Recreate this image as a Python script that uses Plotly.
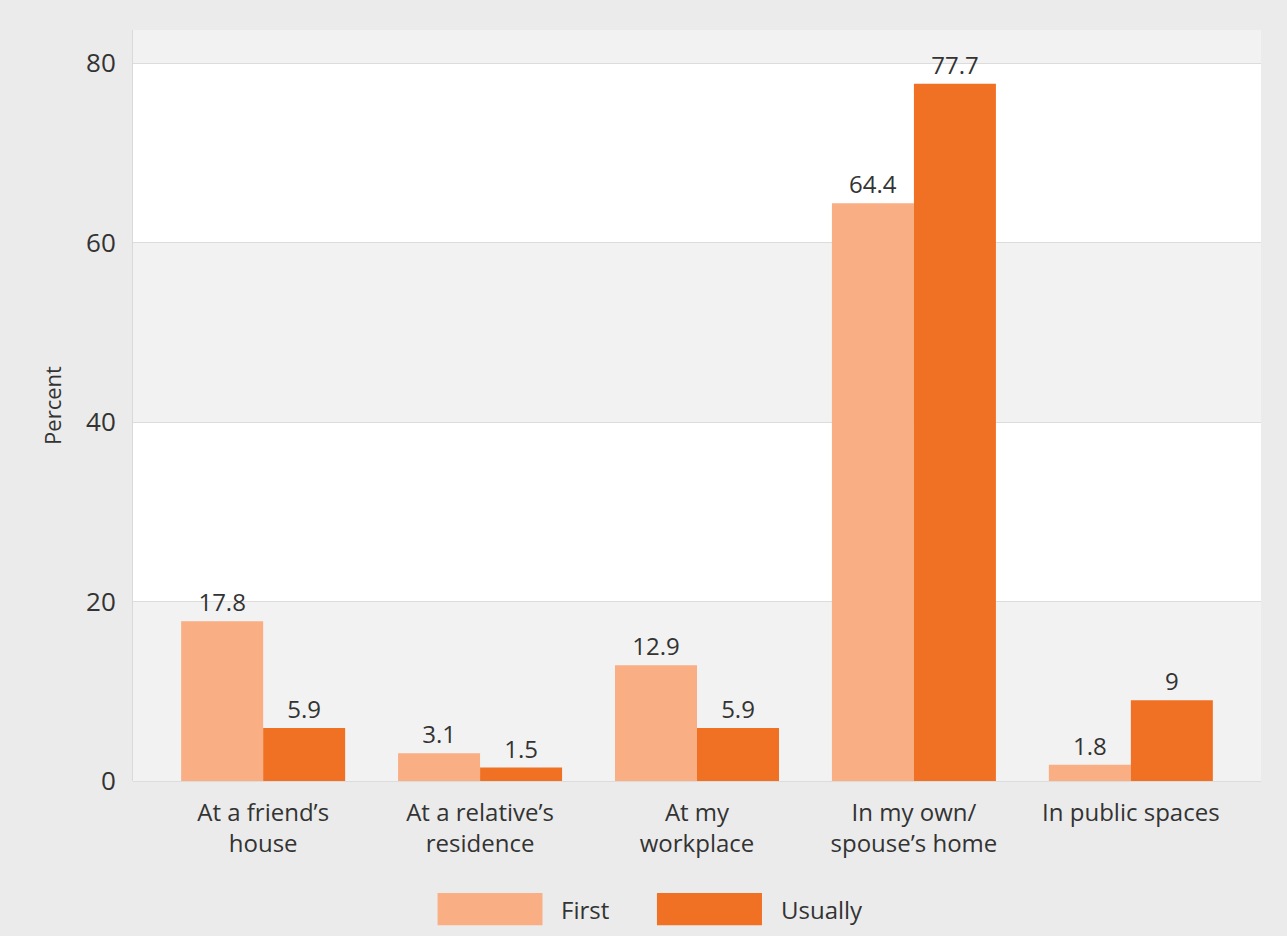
import plotly.graph_objects as go

categories = ["At a friend’s<br>house", "At a relative’s<br>residence", "At my<br>workplace",
              "In my own/<br>spouse’s home", "In public spaces"]
series_names = ["First", "Usually"]
first_values = [17.8, 3.1, 12.9, 64.4, 1.8]
usually_values = [5.9, 1.5, 5.9, 77.7, 9]
y_ticks = [0, 20, 40, 60, 80]

colors = ["#f9ae83", "#f07123"]
FONT = "Open Sans"
TXT = "#333333"
FS = 24

fig = go.Figure()
for name, vals, col in zip(series_names, [first_values, usually_values], colors):
    fig.add_trace(go.Bar(
        x=categories, y=vals, name=name, marker=dict(color=col, line=dict(width=0)),
        text=[f"{v:g}" for v in vals], textposition="outside", cliponaxis=False,
        textfont=dict(family=FONT, size=FS, color=TXT), showlegend=False,
    ))

# alternating white bands
shapes = []
for lo, hi in [(20, 40), (60, 80)]:
    shapes.append(dict(type="rect", xref="paper", yref="y", x0=0, x1=1, y0=lo, y1=hi,
                       fillcolor="white", line=dict(width=0), layer="below"))

# custom legend swatches
legend_pos = [(0.270, 0.363), (0.4645, 0.5576)]
annotations = []
for (x0, x1), col, name in zip(legend_pos, colors, series_names):
    shapes.append(dict(type="rect", xref="paper", yref="paper", x0=x0, x1=x1, y0=-0.192, y1=-0.149,
                       fillcolor=col, line=dict(width=0)))
    annotations.append(dict(xref="paper", yref="paper", x=x1 + 0.015, y=-0.1705, text=name,
                            showarrow=False, xanchor="left", yanchor="middle",
                            font=dict(family=FONT, size=FS, color=TXT)))

fig.update_layout(
    width=1287, height=936,
    margin=dict(l=133, r=26, t=30, b=155),
    paper_bgcolor="#ebebeb", plot_bgcolor="#f2f2f2",
    barmode="group", bargap=0.244, bargroupgap=0,
    shapes=shapes, annotations=annotations,
    font=dict(family=FONT, size=FS, color=TXT),
    xaxis=dict(range=[-0.6, 4.6], showgrid=False, showline=False, ticks="",
               ticklabelstandoff=15,
               tickfont=dict(family=FONT, size=FS, color=TXT)),
    yaxis=dict(range=[0, 83.7], tickvals=y_ticks, showgrid=True, gridcolor="#dcdcdc", gridwidth=1,
               zeroline=True, zerolinecolor="#dcdcdc", zerolinewidth=1,
               showline=True, linecolor="#d9d9d9", linewidth=1, ticks="",
               ticklabelstandoff=11,
               tickfont=dict(family=FONT, size=26, color=TXT),
               title=dict(text="Percent", font=dict(family=FONT, size=22, color=TXT), standoff=18)),
)

fig.write_html("out.html", config={"displayModeBar": False},
               post_script="document.body.style.margin='0';")
